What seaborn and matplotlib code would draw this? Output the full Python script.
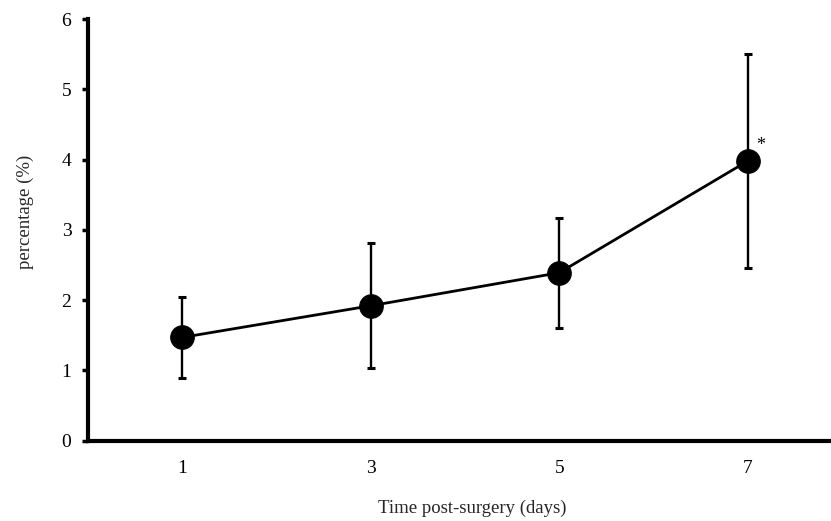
import matplotlib
matplotlib.use("Agg")
import matplotlib.pyplot as plt
import seaborn as sns
import pandas as pd

days = [1, 3, 5, 7]
means = [1.47, 1.92, 2.39, 3.98]
sd = [0.58, 0.89, 0.78, 1.52]
yticks = [0, 1, 2, 3, 4, 5, 6]

sns.set_theme(style="ticks")
plt.rcParams['font.family'] = ['Liberation Serif', 'DejaVu Serif']

df = pd.DataFrame({"day": days, "pct": means})

fig = plt.figure(figsize=(8.31, 5.21), dpi=100)
ax = fig.add_axes([88/831, 80.3/521, (842-88)/831, (440.7-19)/521])

ax.errorbar(days, means, yerr=sd, fmt='none', ecolor='black', elinewidth=1.7,
            capsize=2.6, capthick=2.2, zorder=2)
sns.lineplot(data=df, x="day", y="pct", ax=ax, color='black', linewidth=2.0,
             marker='o', markersize=17, markeredgecolor='black',
             markerfacecolor='black', zorder=3)

ax.annotate('*', xy=(days[3], means[3]), xytext=(9, 11), textcoords='offset points',
            fontsize=13, ha='center', va='center', color='black')

ax.set_xlim(0, 8)
ax.set_ylim(0, 6)
ax.set_xticks(days)
ax.set_xticklabels([str(d) for d in days])
ax.set_yticks(yticks)
ax.set_yticklabels([str(t) for t in yticks])

for s in ['top', 'right']:
    ax.spines[s].set_visible(False)
for s in ['left', 'bottom']:
    ax.spines[s].set_linewidth(3.0)
    ax.spines[s].set_color('black')
ax.spines['bottom'].set_clip_on(False)

ax.tick_params(axis='y', length=4, width=2.5, direction='out', labelsize=14, pad=8, colors='black')
ax.tick_params(axis='x', length=0, labelsize=14, pad=14, colors='black')

ax.set_xlabel("Time post-surgery (days)", fontsize=13.5)
ax.set_ylabel("percentage (%)", fontsize=13.5)
ax.xaxis.set_label_coords((472-88)/754, (440.7-500)/421.7)
ax.yaxis.set_label_coords((34-88)/754, (440.7-212)/421.7)

fig.savefig("out.png", dpi=100)
